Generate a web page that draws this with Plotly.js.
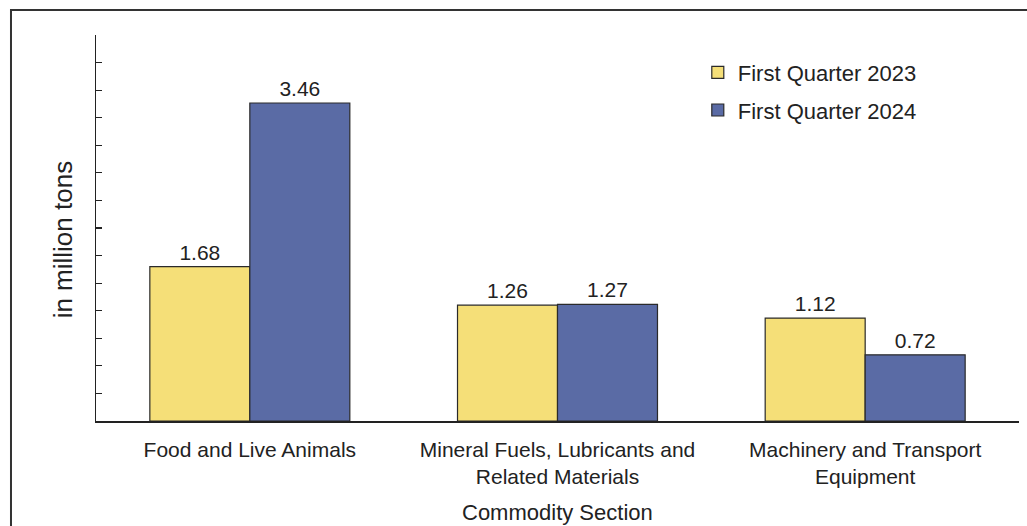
<!DOCTYPE html>
<html>
<head>
<meta charset="utf-8">
<script src="https://cdn.plot.ly/plotly-3.0.1.min.js"></script>
<style>
  html, body { margin: 0; padding: 0; background: #ffffff; }
  #chart { width: 1027px; height: 526px; }
</style>
</head>
<body>
<div id="chart"></div>
<script>
// Commodity sections (x categories)
const categories = [
  "Food and Live Animals",
  "Mineral Fuels, Lubricants and<br>Related Materials",
  "Machinery and Transport<br>Equipment"
];

// Volumes in million tons
const q1_2023 = [1.68, 1.26, 1.12];
const q1_2024 = [3.46, 1.27, 0.72];

const seriesNames = ["First Quarter 2023", "First Quarter 2024"];

const FONT = "Liberation Sans, Arial, sans-serif";
const INK = "#222222";

function barTrace(name, values, color, group) {
  return {
    type: "bar",
    name: name,
    legendgroup: group,
    x: categories,
    y: values,
    text: values.map(v => v.toFixed(2)),
    textposition: "outside",
    cliponaxis: false,
    textfont: { family: FONT, size: 21, color: INK },
    marker: { color: color, line: { color: "#2a2a2a", width: 1.2 } },
    hoverinfo: "x+y+name"
  };
}

const data = [
  barTrace(seriesNames[0], q1_2023, "#F5DF78", "a"),
  barTrace(seriesNames[1], q1_2024, "#5A6BA5", "b")
];

const layout = {
  width: 1027,
  height: 526,
  margin: { l: 96, r: 8, t: 35, b: 105 },
  paper_bgcolor: "#ffffff",
  plot_bgcolor: "#ffffff",
  font: { family: FONT, color: INK },
  barmode: "group",
  bargap: 0.35,
  bargroupgap: 0,
  showlegend: true,
  legend: {
    x: 0.652, y: 0.957,
    xanchor: "left", yanchor: "top",
    font: { family: FONT, size: 22, color: INK },
    tracegroupgap: 6,
    itemwidth: 30,
    bgcolor: "rgba(0,0,0,0)"
  },
  xaxis: {
    type: "category",
    showline: true,
    linecolor: INK,
    linewidth: 1.5,
    ticks: "",
    ticklabelstandoff: 9,
    showgrid: false,
    zeroline: false,
    tickfont: { family: FONT, size: 21, color: INK }
  },
  yaxis: {
    range: [0, 4.2],
    dtick: 0.3,
    tick0: 0,
    showline: true,
    linecolor: INK,
    linewidth: 1.5,
    ticks: "inside",
    ticklen: 6,
    tickwidth: 1.2,
    tickcolor: INK,
    showticklabels: false,
    showgrid: false,
    zeroline: false
  },
  annotations: [
    {
      text: "in million tons",
      xref: "paper", yref: "paper",
      x: -0.036, y: 0.47,
      xanchor: "center", yanchor: "middle",
      textangle: -90,
      showarrow: false,
      font: { family: FONT, size: 26, color: INK }
    },
    {
      text: "Commodity Section",
      xref: "paper", yref: "paper",
      x: 0.5, y: -0.238,
      xanchor: "center", yanchor: "middle",
      showarrow: false,
      font: { family: FONT, size: 22, color: INK }
    }
  ],
  shapes: [
    {
      type: "rect",
      xref: "paper", yref: "paper",
      x0: -0.0921, x1: 1.03,
      y0: -0.32, y1: 1.0648,
      line: { color: "#333333", width: 2 },
      fillcolor: "rgba(0,0,0,0)",
      layer: "below"
    }
  ]
};

Plotly.newPlot("chart", data, layout, { displayModeBar: false, staticPlot: true });
</script>
</body>
</html>
